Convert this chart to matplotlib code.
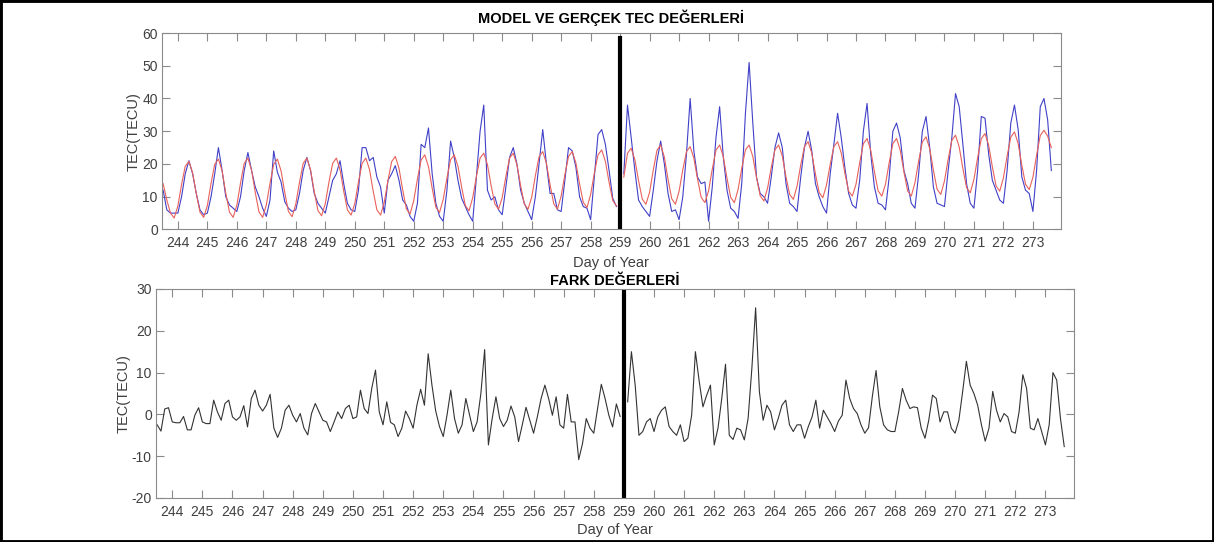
import numpy as np
import matplotlib
matplotlib.use("Agg")
import matplotlib.pyplot as plt
from matplotlib.patches import Rectangle

plt.rcParams['font.family'] = ['Liberation Sans', 'DejaVu Sans']
plt.rcParams['axes.unicode_minus'] = False

# first sample (day of year) and sampling step (3 hours)
t_start = 243.5
t_step = 0.125
split_day = 259

# measured TEC, one row per day (8 samples per day)
tec_real = [
    12, 6, 5, 5,
    5, 10, 17, 21, 17, 11, 6, 4.5,
    5, 10, 17, 25, 18, 10, 7.5, 6.5,
    5.5, 10, 18, 23.5, 18, 13, 10, 6.5,
    4, 9, 24, 17.5, 14.5, 8.5, 6.5, 5.5,
    6, 11, 18, 22, 18, 11, 8, 6.5,
    5, 10, 15, 17, 21, 14, 8, 6,
    5.5, 12, 25, 25, 21, 22, 16, 13,
    5, 15, 17, 19.5, 15, 9, 7.5, 4,
    2.5, 8, 26, 25, 31, 17, 8, 4,
    2.5, 12, 27, 22, 15, 9.5, 7, 4.5,
    2.5, 16, 30, 38, 12, 9, 10, 6,
    4.5, 13, 22, 25, 20, 12, 8, 5.5,
    3, 10, 20, 30.5, 20, 11, 11, 6,
    5.5, 15, 25, 24, 19, 10, 7, 6.5,
    3, 16, 29, 30.5, 26, 18, 9.5, 7,
    np.nan, 17, 38, 28, 18, 9, 7, 5.5,
    4, 12, 21, 27, 20, 11, 5.5, 6,
    3, 10, 23, 40, 24, 16, 14, 14.5,
    2.5, 13, 28, 37.5, 22, 12, 6.5, 5.5,
    3.4, 14, 35.5, 51, 32.5, 16, 11, 10,
    8, 16, 25, 29.5, 25, 14, 8, 7,
    5.5, 16, 25, 30, 24, 14, 10, 7,
    5, 17, 26, 35.5, 28, 18.7, 11, 7.5,
    6.5, 15, 30, 38.5, 23, 13, 8, 7.5,
    6, 16, 30, 32.5, 28, 18, 14, 8,
    6.5, 17, 30, 34.5, 25, 13, 8, 7.5,
    7, 18, 28, 41.5, 37.5, 26, 14, 8,
    6.5, 18, 34.5, 34, 23, 15, 12, 9,
    8, 18, 32.5, 38, 30.5, 16, 12, 11,
    5.5, 18, 37.5, 40, 33.5, 18,
]

# model TEC
tec_model = [
    14, 9, 5, 3.5,
    7.2, 13.7, 19.3, 20.8, 17.3, 10.9, 5.3, 3.7,
    7.3, 14.1, 19.9, 21.5, 17.9, 11.1, 5.3, 3.7,
    7.4, 14.2, 20.2, 21.8, 18.1, 11.3, 5.4, 3.7,
    7.5, 14.1, 19.9, 21.5, 17.9, 11.3, 5.5, 3.9,
    7.8, 14.4, 20.2, 21.8, 18.2, 11.6, 5.8, 4.2,
    7.9, 14.5, 20.2, 21.8, 18.3, 11.7, 6.0, 4.4,
    7.9, 14.5, 20.2, 21.8, 18.3, 11.7, 6.0, 4.4,
    8.3, 14.9, 20.7, 22.3, 18.7, 12.1, 6.3, 4.7,
    8.8, 15.4, 21.2, 22.8, 19.2, 12.6, 6.8, 5.2,
    9.2, 15.7, 21.3, 22.8, 19.3, 12.9, 7.3, 5.7,
    9.7, 16.2, 21.8, 23.3, 19.8, 13.4, 7.8, 6.2,
    9.7, 16.2, 21.8, 23.3, 19.8, 13.4, 7.8, 6.2,
    9.8, 16.4, 22.2, 23.8, 20.2, 13.6, 7.8, 6.2,
    10.2, 16.7, 22.3, 23.8, 20.3, 13.9, 8.3, 6.7,
    10.7, 17.2, 22.8, 24.3, 20.8, 14.4, 8.8, 7.2,
    np.nan, 16, 23.3, 24.8, 21.3, 14.9, 9.3, 7.7,
    11.4, 18.2, 24.2, 25.8, 22.1, 15.3, 9.4, 7.7,
    11.7, 18.2, 23.8, 25.3, 21.8, 15.4, 9.8, 8.2,
    11.8, 18.4, 24.2, 25.8, 22.2, 15.6, 9.8, 8.2,
    12.2, 18.7, 24.3, 25.8, 22.3, 15.9, 10.3, 8.7,
    12.6, 18.9, 24.3, 25.8, 22.4, 16.1, 10.7, 9.2,
    13.2, 19.7, 25.3, 26.8, 23.3, 16.9, 11.3, 9.7,
    13.6, 19.9, 25.3, 26.8, 23.4, 17.1, 11.7, 10.2,
    13.8, 20.4, 26.2, 27.8, 24.2, 17.6, 11.8, 10.2,
    13.8, 20.4, 26.2, 27.8, 24.2, 17.6, 11.8, 10.2,
    14.3, 20.9, 26.7, 28.3, 24.7, 18.1, 12.3, 10.7,
    14.8, 21.4, 27.2, 28.8, 25.2, 18.6, 12.8, 11.2,
    15.3, 21.9, 27.7, 29.3, 25.7, 19.1, 13.3, 11.7,
    15.8, 22.4, 28.2, 29.8, 26.2, 19.6, 13.8, 12.2,
    15.9, 22.7, 28.7, 30.3, 28.5, 25,
]

# difference values (FARK)
tec_diff = [
    -2.5, -4, 1.3, 1.6,
    -1.8, -2, -2, -0.5, -3.7, -3.7, -0.2, 1.6,
    -1.8, -2.2, -2.2, 3.4, 0.6, -1.4, 2.6, 3.4,
    -0.6, -1.4, -0.6, 2.1, -3, 3.8, 5.8, 2.2,
    0.8, 2.2, 4.8, -3.3, -5.5, -3.3, 1, 2.2,
    -0.2, -1.8, 0.2, -3.3, -4.9, 0.2, 2.6, 0.6,
    -1.4, -1.8, -4.1, -1.8, 0.6, -1, 1.4, 2.2,
    -1, -0.6, 5.8, 1.4, 0.2, 6.2, 10.6, 0.6,
    -2.5, 3, -1.9, -2.5, -5.3, -3.3, 0.8, -1,
    -3.3, 2.2, 6, 2.2, 14.5, 7, 0.8, -2.9,
    -5.3, -0.2, 5.8, -1, -4.5, -2.5, 3.8, -0.2,
    -4.1, -1.8, 5, 15.5, -7.3, -1, 4.2, -1,
    -2.9, -1.4, 2, -0.6, -6.5, -2.5, 1.7, -1.4,
    -4.5, -0.6, 3.8, 7, 3.8, -0.2, 4.2, -2.5,
    -3.3, 4.8, -1.8, -1.8, -10.8, -7, -1, -3.3,
    -4.5, 1.4, 7.2, 3.8, -0.2, -3, 2.5, -0.5,
    np.nan, 3, 15, 7, -5, -4.1, -1.8, -1,
    -4.1, -0.6, 1, 1.8, -2.9, -4.1, -5, -2.5,
    -6.5, -5.7, -0.2, 15, 8, 1.8, 4.6, 7,
    -7.3, -3.3, 3.8, 12, -5, -6, -3.3, -3.7,
    -6.1, -1, 11, 25.5, 5.4, -1.4, 2.2, 0.6,
    -3.7, -1, 2.2, 3.4, -2.5, -4.1, -2.5, -2.5,
    -5.7, -2.9, -0.6, 3.4, -3.3, 1, -0.6, -2.2,
    -4.1, -1.6, -0.2, 8.2, 3.8, 1.4, 0.2, -2.5,
    -4.5, -3.2, 4.2, 10.5, 1.8, -2.5, -3.7, -4.1,
    -4.1, 0.6, 6.2, 3.4, 1.4, 1.8, 1.6, -3.3,
    -5.7, -1.4, 4.6, 3.8, -1.8, 0.6, 0.6, -3.3,
    -4.5, -1.4, 5.4, 12.7, 7, 5, 2.2, -2.5,
    -6.4, -3.3, 5.5, 1, -1.8, 0.2, -0.6, -4.1,
    -4.5, 0.6, 9.5, 6.2, -3.3, -3.7, -1, -4.1,
    -7.3, -2.5, 10, 8.2, -1, -7.7,
]

days = list(range(244, 274))
t = t_start + t_step * np.arange(len(tec_real))

tick_col = '#404040'
spine_col = '#8a8a8a'

fig = plt.figure(figsize=(12.14, 5.42), dpi=100)
ax1 = fig.add_axes([0.1334, 0.5766, 0.7405, 0.3625])
ax2 = fig.add_axes([0.1285, 0.0812, 0.7562, 0.3856])

ax1.plot(t, tec_real, color='#4040c8', lw=0.8)
ax1.plot(t, tec_model, color='#e8625a', lw=0.8)
ax1.axvline(split_day, ymin=0.01, ymax=0.975, color='black', lw=3)
ax1.set_ylim(0, 60)
ax1.set_yticks(range(0, 61, 10))
ax1.set_title('MODEL VE GERÇEK TEC DEĞERLERİ', fontsize=10.5, fontweight='bold', pad=7)

ax2.plot(t, tec_diff, color='#333333', lw=0.8)
ax2.axvline(split_day, ymin=0.01, ymax=0.99, color='black', lw=3)
ax2.set_ylim(-20, 30)
ax2.set_yticks(range(-20, 31, 10))
ax2.set_title('FARK DEĞERLERİ', fontsize=10.5, fontweight='bold', pad=3)

for ax in (ax1, ax2):
    ax.set_xlim(243.46, 273.95)
    ax.set_xticks(days)
    ax.tick_params(direction='in', length=6, width=0.8, color=spine_col,
                   top=True, right=True, labelsize=10, labelcolor=tick_col, pad=5)
    ax.tick_params(axis='y', pad=3)
    for s in ax.spines.values():
        s.set_color(spine_col)
        s.set_linewidth(0.8)
    ax.set_ylabel('TEC(TECU)', fontsize=10.5, color=tick_col, labelpad=1)

ax1.set_xlabel('Day of Year', fontsize=10.5, color=tick_col, labelpad=4)
ax2.set_xlabel('Day of Year', fontsize=10.5, color=tick_col, labelpad=3)

# frame round the whole figure
fig.add_artist(Rectangle((0, 0), 1, 1, transform=fig.transFigure,
                         fill=False, edgecolor='black', lw=3.5))

fig.savefig('out.png', dpi=100)
